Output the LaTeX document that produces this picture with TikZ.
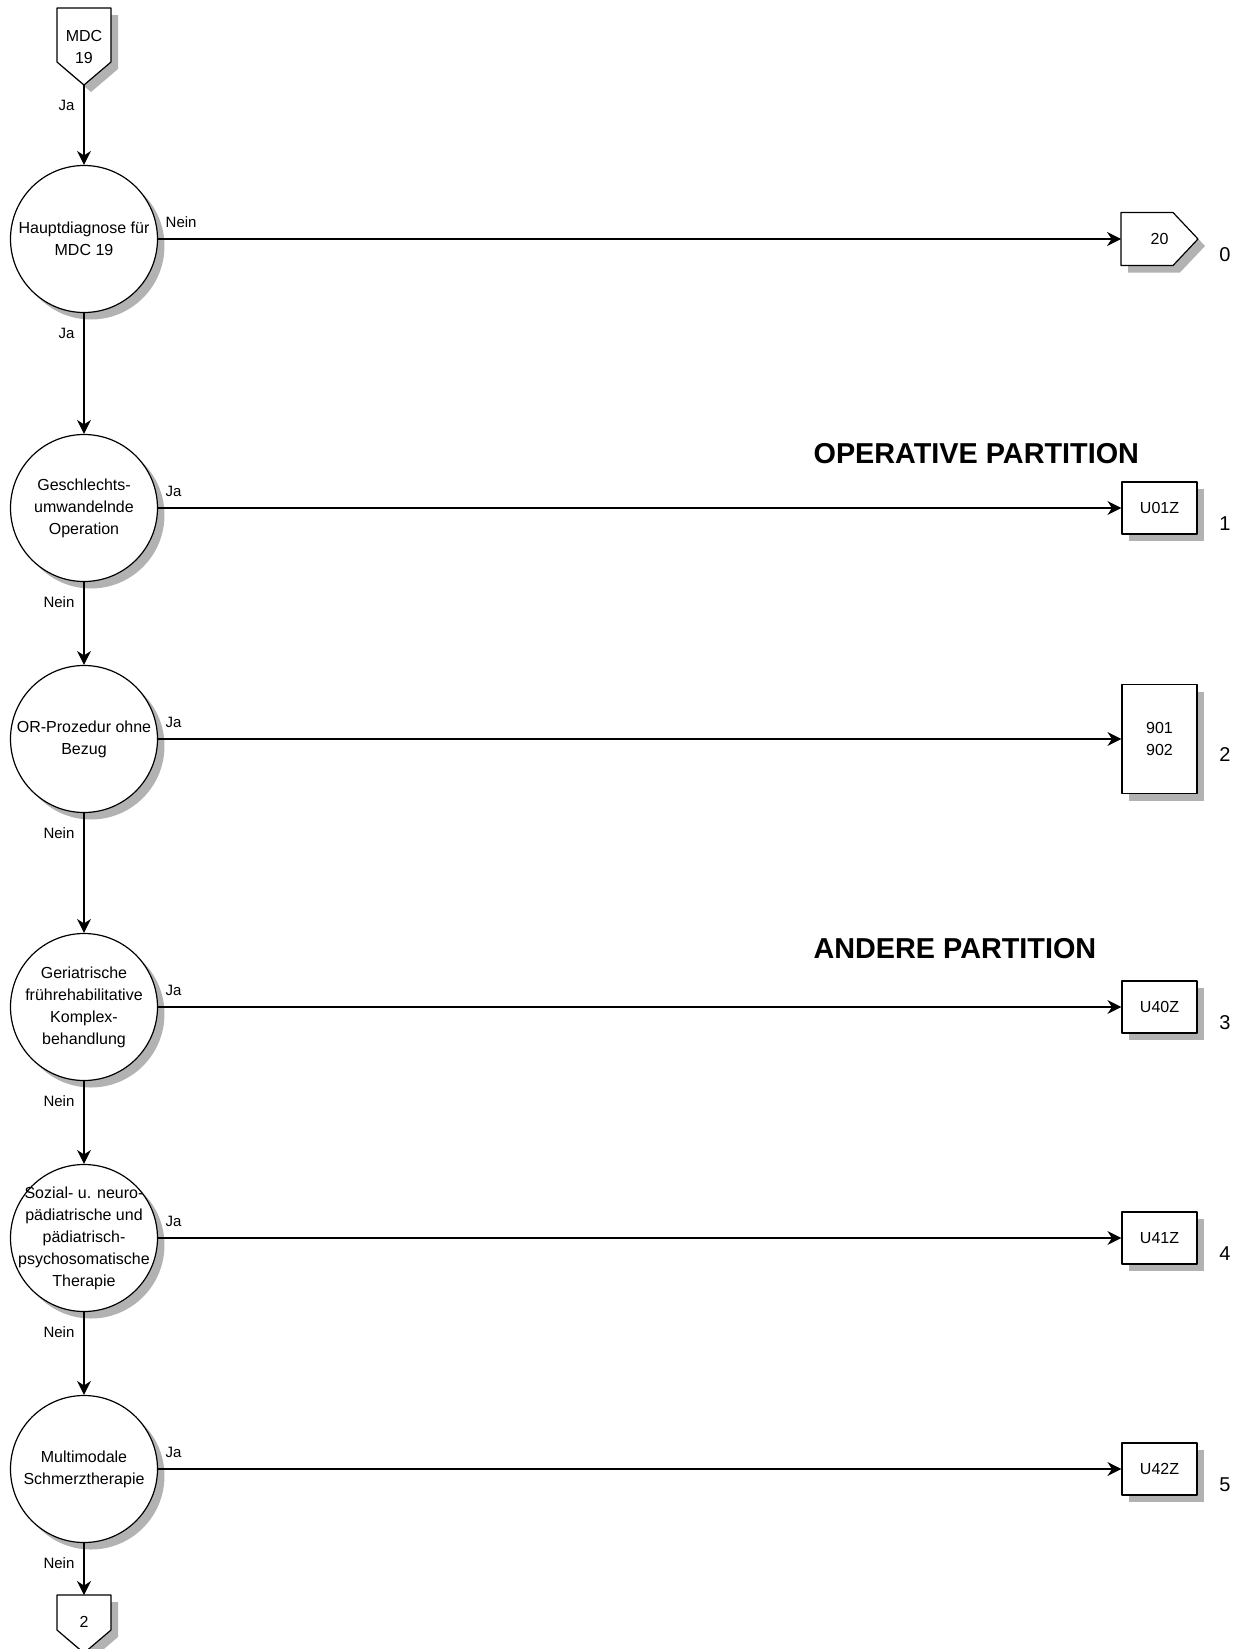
\documentclass[tikz,border=0pt]{standalone}
\usepackage{fontspec}
\setmainfont{Liberation Sans}
\usetikzlibrary{arrows.meta,shadows}
\begin{document}
\begin{tikzpicture}[x=0.5pt,y=-0.5pt,line join=round,line width=0.6pt,>={Stealth[length=7pt,width=7pt]},
schatten/.style={drop shadow={shadow xshift=3.5pt,shadow yshift=-3.5pt,fill=black!30,opacity=1}},
frage/.style={circle,draw,fill=white,schatten,minimum size=73.5pt,inner sep=-30pt,align=center,font=\fontsize{8}{11}\selectfont},
ziel/.style={rectangle,draw,fill=white,schatten,minimum width=37.5pt,minimum height=26pt,inner sep=0pt,align=center,font=\fontsize{8}{11}\selectfont},
pent/.style={draw,fill=white,schatten},
txt/.style={inner sep=0pt,align=center,font=\fontsize{8}{11}\selectfont},
lab/.style={inner sep=0pt,font=\fontsize{7.5}{9}\selectfont},
nr/.style={inner sep=0pt,font=\fontsize{10}{12}\selectfont},
head/.style={inner sep=0pt,font=\fontsize{14.4}{17}\selectfont\bfseries}]
\useasboundingbox (0,0) rectangle (1242,1649);
% Einstieg MDC 19
\draw[pent] (57,8) -- (111,8) -- (111,62) -- (84,85) -- (57,62) -- cycle;
\node[txt] (mdc) at (84,46.5) {MDC\\19};
\coordinate (mdctip) at (84,85);
% Entscheidungen
\node[frage] (d1) at (84,239) {Hauptdiagnose für\\MDC 19};
\node[frage] (d2) at (84,508) {Geschlechts-\\umwandelnde\\Operation};
\node[frage] (d3) at (84,739) {OR-Prozedur ohne\\Bezug};
\node[frage] (d4) at (84,1007) {Geriatrische\\frührehabilitative\\Komplex-\\behandlung};
\node[frage] (d5) at (84,1238) {Sozial- u. neuro-\\pädiatrische und\\pädiatrisch-\\psychosomatische\\Therapie};
\node[frage] (d6) at (84,1469) {Multimodale\\Schmerztherapie};
% Ausgang Seite 2
\draw[pent] (57,1595) -- (111,1595) -- (111,1630) -- (84,1653) -- (57,1630) -- cycle;
\node[txt] (weiter) at (84,1622) {2};
\coordinate (weitertop) at (84,1595);
% MDC 20
\draw[pent] (1121,212.5) -- (1173,212.5) -- (1198,239) -- (1173,265.5) -- (1121,265.5) -- cycle;
\node[txt] (mdc20) at (1159.5,239) {20};
\coordinate (mdc20in) at (1121,239);
% DRGs
\node[ziel] (u01) at (1159.5,508) {U01Z};
\node[ziel,minimum height=54.5pt] (p90) at (1159.5,739) {901\\902};
\node[ziel] (u40) at (1159.5,1007) {U40Z};
\node[ziel] (u41) at (1159.5,1238) {U41Z};
\node[ziel] (u42) at (1159.5,1469) {U42Z};
% Nummern
\node[nr] (n0) at (1225,255) {0};
\node[nr] (n1) at (1225,524) {1};
\node[nr] (n2) at (1225,755) {2};
\node[nr] (n3) at (1225,1023) {3};
\node[nr] (n4) at (1225,1254) {4};
\node[nr] (n5) at (1225,1485) {5};
% Partitionen
\node[head,anchor=base west] (opp) at (813,463) {OPERATIVE PARTITION};
\node[head,anchor=base west] (anp) at (813,958) {ANDERE PARTITION};
% Pfeile nach unten
\draw[->] (mdctip) -- (d1.north) node[lab,pos=0,anchor=north east,xshift=-4.5pt,yshift=-7.5pt]{Ja};
\draw[->] (d1.south) -- (d2.north) node[lab,pos=0,anchor=north east,xshift=-4.5pt,yshift=-7pt]{Ja};
\draw[->] (d2.south) -- (d3.north) node[lab,pos=0,anchor=north east,xshift=-4.5pt,yshift=-7pt]{Nein};
\draw[->] (d3.south) -- (d4.north) node[lab,pos=0,anchor=north east,xshift=-4.5pt,yshift=-7pt]{Nein};
\draw[->] (d4.south) -- (d5.north) node[lab,pos=0,anchor=north east,xshift=-4.5pt,yshift=-7pt]{Nein};
\draw[->] (d5.south) -- (d6.north) node[lab,pos=0,anchor=north east,xshift=-4.5pt,yshift=-7pt]{Nein};
\draw[->] (d6.south) -- (weitertop) node[lab,pos=0,anchor=north east,xshift=-4.5pt,yshift=-7pt]{Nein};
% Pfeile nach rechts
\draw[->] (d1.east) -- (mdc20in) node[lab,pos=0,anchor=south west,xshift=3.5pt,yshift=5.5pt]{Nein};
\draw[->] (d2.east) -- (u01.west) node[lab,pos=0,anchor=south west,xshift=3.5pt,yshift=5.5pt]{Ja};
\draw[->] (d3.east) -- (p90.west) node[lab,pos=0,anchor=south west,xshift=3.5pt,yshift=5.5pt]{Ja};
\draw[->] (d4.east) -- (u40.west) node[lab,pos=0,anchor=south west,xshift=3.5pt,yshift=5.5pt]{Ja};
\draw[->] (d5.east) -- (u41.west) node[lab,pos=0,anchor=south west,xshift=3.5pt,yshift=5.5pt]{Ja};
\draw[->] (d6.east) -- (u42.west) node[lab,pos=0,anchor=south west,xshift=3.5pt,yshift=5.5pt]{Ja};
\end{tikzpicture}
\end{document}
